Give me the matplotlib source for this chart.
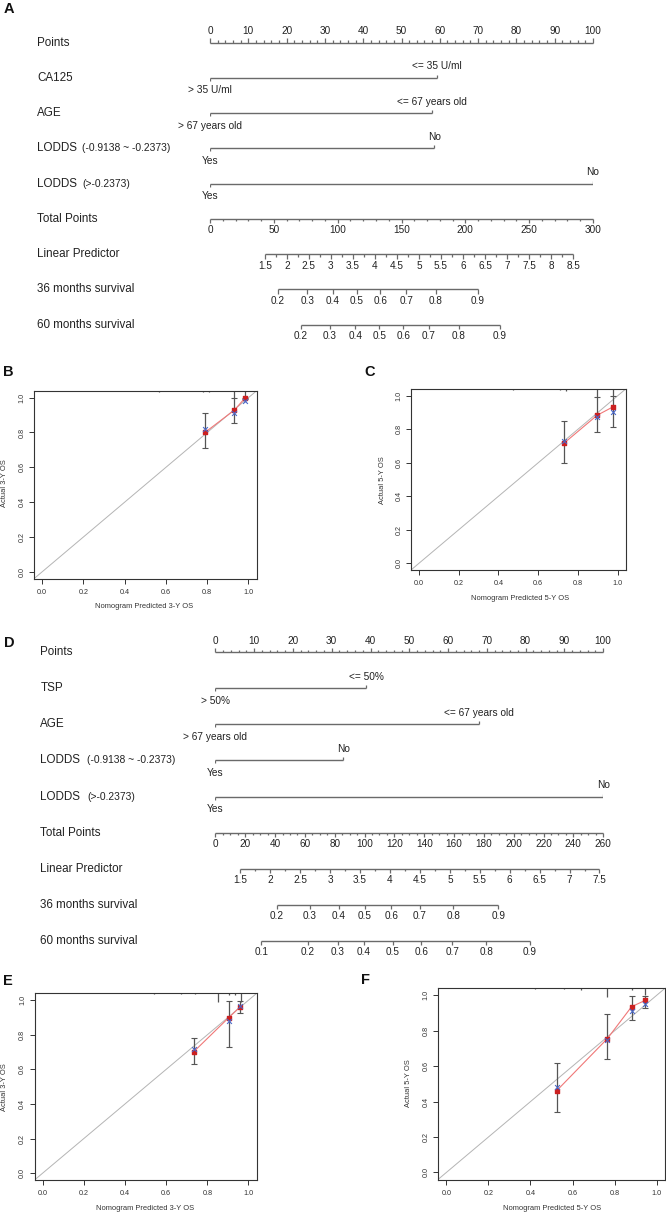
import numpy as np
import matplotlib
matplotlib.use('Agg')
import matplotlib.pyplot as plt
from matplotlib.transforms import blended_transform_factory

plt.rcParams['font.family'] = ['Liberation Sans', 'DejaVu Sans']

W, H = 666, 1215
TXT = '#222222'
LINE = '#6a6a6a'

# ---------------- nomogram A ----------------
a_names = ['CA125', 'AGE', 'LODDS', 'LODDS']
a_notes = ['', '', '(-0.9138 ~ -0.2373)', '(>-0.2373)']
a_low = ['> 35 U/ml', '> 67 years old', 'Yes', 'Yes']
a_high = ['<= 35 U/ml', '<= 67 years old', 'No', 'No']
a_high_pts = [59.3, 57.9, 58.6, 100]
a_total_max, a_total_step, a_total_minor = 300, 50, 10
a_lp_ticks = [1.5, 2, 2.5, 3, 3.5, 4, 4.5, 5, 5.5, 6, 6.5, 7, 7.5, 8, 8.5]
a_lp_total = [43.0, 284.4]   # total points at first / last LP tick
a_s36 = [0.2, 0.3, 0.4, 0.5, 0.6, 0.7, 0.8, 0.9]
a_s36_total = [53.0, 76.2, 96.1, 114.9, 133.4, 153.6, 177.0, 209.7]
a_s60 = [0.2, 0.3, 0.4, 0.5, 0.6, 0.7, 0.8, 0.9]
a_s60_total = [71.0, 94.0, 113.8, 132.6, 151.4, 171.3, 194.8, 227.2]

# ---------------- nomogram D ----------------
d_names = ['TSP', 'AGE', 'LODDS', 'LODDS']
d_notes = ['', '', '(-0.9138 ~ -0.2373)', '(>-0.2373)']
d_low = ['> 50%', '> 67 years old', 'Yes', 'Yes']
d_high = ['<= 50%', '<= 67 years old', 'No', 'No']
d_high_pts = [38.9, 68.0, 33.0, 100]
d_total_max, d_total_step, d_total_minor = 260, 20, 5
d_lp_ticks = [1.5, 2, 2.5, 3, 3.5, 4, 4.5, 5, 5.5, 6, 6.5, 7, 7.5]
d_lp_total = [16.8, 257.5]
d_s36 = [0.2, 0.3, 0.4, 0.5, 0.6, 0.7, 0.8, 0.9]
d_s36_total = [41.3, 63.5, 82.6, 100.0, 117.9, 137.0, 159.5, 189.7]
d_s60 = [0.1, 0.2, 0.3, 0.4, 0.5, 0.6, 0.7, 0.8, 0.9]
d_s60_total = [30.8, 62.1, 82.0, 99.7, 119.1, 138.1, 158.9, 181.7, 210.7]

# ---------------- calibration curves ----------------
b_pred = [0.790, 0.932, 0.985]
b_obs = [0.801, 0.929, 1.000]
b_corr = [0.818, 0.910, 0.981]
b_lo = [0.713, 0.856, 0.990]
b_hi = [0.910, 1.000, 1.000]
b_rug = [0.565, 0.78, 0.81, 0.932, 0.985]
b_rug_h = [0.008, 0.01, 0.01, 0.04, 0.045]

c_pred = [0.729, 0.896, 0.977]
c_obs = [0.716, 0.883, 0.934]
c_corr = [0.732, 0.871, 0.903]
c_lo = [0.596, 0.785, 0.811]
c_hi = [0.849, 0.994, 0.998]
c_rug = [0.474, 0.709, 0.738, 0.896, 0.977]
c_rug_h = [0.006, 0.006, 0.01, 0.045, 0.04]

e_pred = [0.734, 0.903, 0.960]
e_obs = [0.702, 0.898, 0.962]
e_corr = [0.715, 0.881, 0.965]
e_lo = [0.629, 0.731, 0.927]
e_hi = [0.783, 0.996, 0.996]
e_rug = [0.54, 0.67, 0.74, 0.85, 0.903, 0.935, 0.965]
e_rug_h = [0.005, 0.006, 0.006, 0.05, 0.01, 0.01, 0.05]

f_pred = [0.525, 0.766, 0.881, 0.946]
f_obs = [0.462, 0.756, 0.936, 0.972]
f_corr = [0.484, 0.747, 0.914, 0.953]
f_lo = [0.343, 0.638, 0.863, 0.930]
f_hi = [0.619, 0.897, 0.996, 0.996]
f_rug = [0.42, 0.56, 0.64, 0.766, 0.881, 0.946]
f_rug_h = [0.005, 0.006, 0.008, 0.05, 0.01, 0.04]

fig = plt.figure(figsize=(W / 100, H / 100), dpi=100)


def px_axes(l, t, r, b):
    return fig.add_axes([l / W, 1 - b / H, (r - l) / W, (b - t) / H])


def nomogram(x0, x1, y0, gap, label_x, note_x, names, notes, low, high, high_pts,
             total_max, total_step, total_minor, lp_ticks, lp_total,
             s36, s36_t, s60, s60_t):
    ax = px_axes(x0, y0 - 0.5 * gap, x1, y0 + 8.5 * gap)
    ax.set_xlim(0, 100)
    ax.set_ylim(8.5, -0.5)
    ax.axis('off')
    px = 1.0 / gap
    tr = blended_transform_factory(fig.transFigure, ax.transData)

    rows = ['Points'] + names + ['Total Points', 'Linear Predictor',
                                 '36 months survival', '60 months survival']
    for i, nm in enumerate(rows):
        ax.text(label_x / W, i, nm, transform=tr, fontsize=8.4, ha='left',
                va='center', color=TXT)
    for i, nt in enumerate(notes):
        if nt:
            ax.text(note_x / W, i + 1, nt, transform=tr, fontsize=7.4,
                    ha='left', va='center', color=TXT)

    def scale(y, pos, labels, minor, up):
        s = -1 if up else 1
        lo = min(pos[0], min(minor)) if len(minor) else pos[0]
        hi = max(pos[-1], max(minor)) if len(minor) else pos[-1]
        ax.plot([lo, hi], [y, y], color=LINE, lw=1.0, clip_on=False,
                solid_capstyle='butt')
        ax.vlines(pos, y, y + s * 4.5 * px, color=LINE, lw=0.9, clip_on=False)
        if len(minor):
            ax.vlines(minor, y, y + s * 2.5 * px, color=LINE, lw=0.9, clip_on=False)
        for p, lab in zip(pos, labels):
            ax.text(p, y + s * 11.5 * px, lab, ha='center', va='center',
                    fontsize=7.2, color=TXT)

    # points axis
    pt_major = np.arange(0, 101, 10)
    pt_minor = [v for v in np.arange(0, 101, 2) if v % 10]
    scale(0, pt_major, [f'{v:d}' for v in pt_major], pt_minor, True)

    # predictor rows
    for k in range(len(names)):
        y = k + 1
        ax.plot([0, high_pts[k]], [y, y], color=LINE, lw=1.0, solid_capstyle='butt')
        ax.vlines(0, y, y + 3 * px, color=LINE, lw=0.9)
        ax.vlines(high_pts[k], y, y - 3 * px, color=LINE, lw=0.9)
        ax.text(0, y + 12.5 * px, low[k], ha='center', va='center', fontsize=7.3,
                color=TXT)
        ax.text(high_pts[k], y - 11.5 * px, high[k], ha='center', va='center',
                fontsize=7.3, color=TXT)

    # total points
    tmaj = np.arange(0, total_max + 1, total_step)
    tmin = [v for v in np.arange(0, total_max + 1, total_minor) if v % total_step]
    scale(5, tmaj / total_max * 100, [f'{v:d}' for v in tmaj],
          np.array(tmin) / total_max * 100, False)

    # linear predictor
    lp = np.array(lp_ticks)
    k = (lp_total[1] - lp_total[0]) / (lp[-1] - lp[0])
    lp_pos = (lp_total[0] + (lp - lp[0]) * k) / total_max * 100
    lp_min = (lp_pos[:-1] + lp_pos[1:]) / 2
    scale(6, lp_pos, [f'{v:g}' for v in lp], lp_min, False)

    # survival scales
    scale(7, np.array(s36_t) / total_max * 100, [f'{v:g}' for v in s36], [], False)
    scale(8, np.array(s60_t) / total_max * 100, [f'{v:g}' for v in s60], [], False)


def calib(box, pred, obs, corr, lo, hi, rug, rug_h, xlab, ylab, xlab_pos, ylab_pos):
    ax = px_axes(*box)
    ax.set_xlim(-0.04, 1.04)
    ax.set_ylim(-0.04, 1.04)
    ax.plot([-0.04, 1.04], [-0.04, 1.04], color='#b4b4b4', lw=0.7)
    ax.vlines(rug, 1.04 - np.array(rug_h), 1.04, color='#555555', lw=0.9)
    mid = (np.array(lo) + np.array(hi)) / 2
    ax.errorbar(pred, mid, yerr=(np.array(hi) - np.array(lo)) / 2, fmt='none',
                ecolor='#555555', elinewidth=0.9, capsize=2, capthick=0.8)
    ax.plot(pred, obs, color='#f07878', lw=0.8)
    ax.scatter(pred, obs, marker='s', s=5, color='#cc2020', zorder=4)
    ax.scatter(pred, corr, marker='x', s=12, color='#4a68c8',
               linewidths=0.8, zorder=5)
    ticks = np.arange(0, 1.01, 0.2)
    ax.set_xticks(ticks)
    ax.set_yticks(ticks)
    ax.set_xticklabels([f'{v:.1f}' for v in ticks])
    ax.set_yticklabels([f'{v:.1f}' for v in ticks], rotation=90, va='center')
    ax.tick_params(length=3.5, width=0.7, labelsize=5.2, colors='#333333')
    ax.tick_params(axis='x', pad=4)
    ax.tick_params(axis='y', pad=2.5)
    for sp in ax.spines.values():
        sp.set_color('#333333')
        sp.set_linewidth(0.8)
    fig.text(xlab_pos[0] / W, 1 - xlab_pos[1] / H, xlab, fontsize=5.4,
             ha='center', va='center', color='#333333')
    fig.text(ylab_pos[0] / W, 1 - ylab_pos[1] / H, ylab, fontsize=5.4,
             ha='center', va='center', rotation=90, color='#333333')


nomogram(210, 593, 42.7, 35.25, 37, 82, a_names, a_notes, a_low, a_high, a_high_pts,
         a_total_max, a_total_step, a_total_minor, a_lp_ticks, a_lp_total,
         a_s36, a_s36_total, a_s60, a_s60_total)
nomogram(215.4, 603.2, 652.3, 36.05, 40.4, 87, d_names, d_notes, d_low, d_high,
         d_high_pts, d_total_max, d_total_step, d_total_minor, d_lp_ticks,
         d_lp_total, d_s36, d_s36_total, d_s60, d_s60_total)

calib((34, 390.7, 256.7, 578.7), b_pred, b_obs, b_corr, b_lo, b_hi, b_rug, b_rug_h,
      'Nomogram Predicted 3-Y OS', 'Actual 3-Y OS', (144, 606), (5, 483))
calib((411, 389, 625.7, 570), c_pred, c_obs, c_corr, c_lo, c_hi, c_rug, c_rug_h,
      'Nomogram Predicted 5-Y OS', 'Actual 5-Y OS', (520, 598), (383, 480))
calib((34.5, 993.3, 256.7, 1180), e_pred, e_obs, e_corr, e_lo, e_hi, e_rug, e_rug_h,
      'Nomogram Predicted 3-Y OS', 'Actual 3-Y OS', (145, 1208), (5, 1087))
calib((438, 988.3, 665, 1179.5), f_pred, f_obs, f_corr, f_lo, f_hi, f_rug, f_rug_h,
      'Nomogram Predicted 5-Y OS', 'Actual 5-Y OS', (552, 1208), (409, 1083))

for lab, x, y in [('A', 9, 9), ('B', 8, 372), ('C', 370, 372),
                  ('D', 9, 643), ('E', 8, 981), ('F', 365, 980)]:
    fig.text(x / W, 1 - y / H, lab, fontsize=10.5, fontweight='bold',
             ha='center', va='center', color='#111111')

fig.savefig('out.png', dpi=100)
